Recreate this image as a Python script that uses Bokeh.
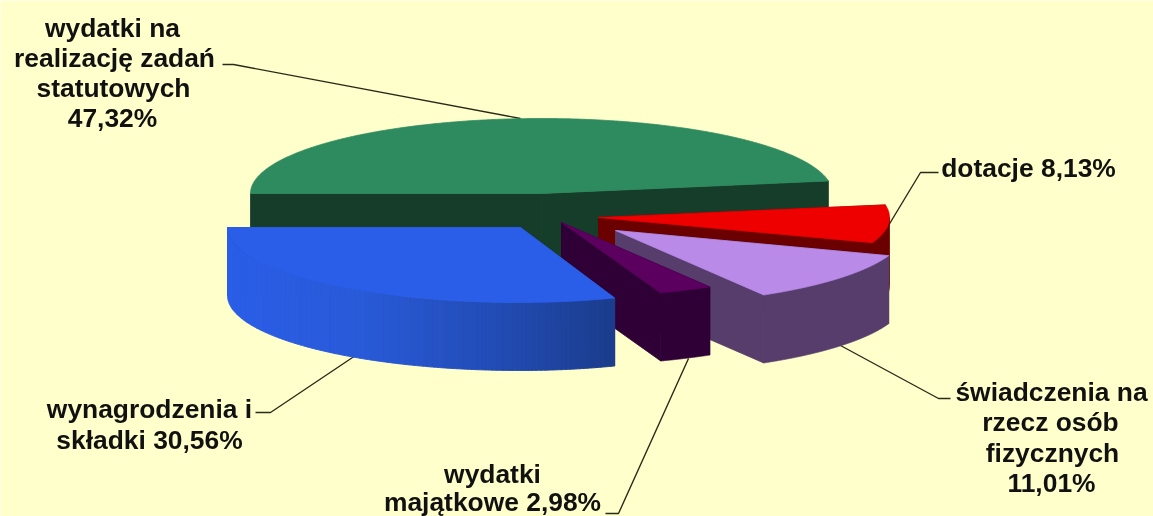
import numpy as np
from bokeh.plotting import figure
from bokeh.models import Range1d
from bokeh.core.properties import value
from bokeh.embed import file_html
from bokeh.resources import INLINE

# data (clockwise from the left edge of the pie)
categories = ["wydatki na realizację zadań statutowych", "dotacje",
              "świadczenia na rzecz osób fizycznych", "wydatki majątkowe",
              "wynagrodzenia i składki"]
shares = [47.32, 8.13, 11.01, 2.98, 30.56]
tick_like_labels = ["47,32%", "8,13%", "11,01%", "2,98%", "30,56%"]

# styling / layout of the slices
W, H = 1153, 516
BG = "#ffffcc"
DEPTH = 68
RY = 75
centres = [(541, 193), (598, 217), (615, 230), (561, 222), (520, 227)]
radii_left = [291, 290, 290, 290, 293]
radii_right = [291, 291, 290, 290, 275]
top_cols = ["#2e8b5f", "#ee0000", "#b98ae8", "#5c0060", "#2b5ee8"]
side_cols = ["#163d2a", "#6b0000", "#573d6b", "#2f0036", "#1d4090"]
START_DEG = 180.0

p = figure(width=W, height=H, output_backend="svg", toolbar_location=None,
           x_range=Range1d(0, W), y_range=Range1d(H, 0), min_border=0,
           background_fill_color=BG, border_fill_color=BG,
           styles={"position": "fixed", "left": "0px", "top": "0px"})
p.axis.visible = False
p.grid.visible = False
p.outline_line_color = None


def poly(xs, ys, col, lw=0.8):
    p.patch(list(xs), list(ys), fill_color=col, line_color=col, line_width=lw)


# leader lines sit below the slices
leaders = [([222, 233, 520], [64, 64, 118]),
           ([938, 920, 888], [172, 172, 225]),
           ([950, 938, 840], [398, 398, 345]),
           ([605, 618, 688], [513, 513, 358]),
           ([255, 270, 355], [412, 412, 355])]
for lx, ly in leaders:
    p.line(lx, ly, line_color="#2a2a1a", line_width=1.4)


def blue_shade(x):
    stops_x = [227, 360, 500, 617]
    r = np.interp(x, stops_x, [0x2b, 0x29, 0x22, 0x1b])
    g = np.interp(x, stops_x, [0x5e, 0x5a, 0x4c, 0x3c])
    b = np.interp(x, stops_x, [0xe8, 0xd8, 0xb4, 0x8a])
    return "#%02x%02x%02x" % (int(r), int(g), int(b))


angle = START_DEG
for i, share in enumerate(shares):
    a0 = angle
    a1 = angle - share * 3.6
    angle = a1
    cx, cy = centres[i]
    th = np.radians(np.linspace(a0, a1, 400))
    rx = np.where(np.cos(th) < 0, radii_left[i], radii_right[i])
    ex = cx + rx * np.cos(th)
    ey = cy - RY * np.sin(th)

    # cut faces
    for px_, py_ in [(ex[0], ey[0]), (ex[-1], ey[-1])]:
        poly([cx, px_, px_, cx], [cy, py_, py_ + DEPTH, cy + DEPTH], side_cols[i])

    # outer rim: only the front part of the ellipse
    mask = np.sin(th) <= 0.0
    if mask.any():
        rx_, ry_ = ex[mask], ey[mask]
        if i == 4:
            # shaded rim: overlapping vertical bands, painted left to right
            order = np.argsort(rx_)
            rx_, ry_ = rx_[order], ry_[order]
            edges = np.linspace(rx_.min(), rx_.max(), 80)
            for j in range(len(edges) - 1):
                k = (rx_ >= edges[j]) & (rx_ <= edges[j + 1])
                sx = np.r_[edges[j], rx_[k], edges[j + 1]]
                sy = np.interp(sx, rx_, ry_)
                poly(np.r_[sx, sx[::-1]], np.r_[sy, sy[::-1] + DEPTH],
                     blue_shade(edges[j]), lw=1.0)
        else:
            poly(np.r_[rx_, rx_[::-1]], np.r_[ry_, ry_[::-1] + DEPTH], side_cols[i])

    # top surface
    poly(np.r_[cx, ex], np.r_[cy, ey], top_cols[i])

# labels
lab_text = ["wydatki na", "realizację zadań", "statutowych", tick_like_labels[0],
            "dotacje " + tick_like_labels[1],
            "świadczenia na", "rzecz osób", "fizycznych", tick_like_labels[2],
            "wydatki", "majątkowe " + tick_like_labels[3],
            "wynagrodzenia i", "składki " + tick_like_labels[4]]
lab_x = [112, 114, 113, 112, 1028, 1051, 1050, 1052, 1051, 492, 492, 149, 149]
lab_y = [27, 57, 87, 117, 167, 391, 421, 452, 482, 473, 501, 408, 439]
p.text(lab_x, lab_y, text=lab_text, text_font=value("Liberation Sans"),
       text_font_style="bold", text_font_size="26.4px", text_color="#111111",
       text_align="center", text_baseline="middle")

open("out.html", "w").write(file_html(p, INLINE))
